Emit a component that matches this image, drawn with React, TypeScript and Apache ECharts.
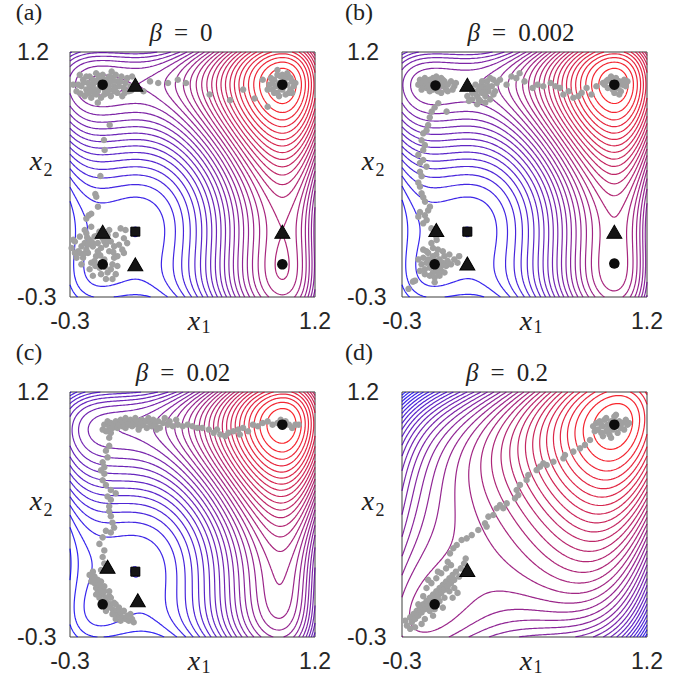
import React, { useEffect, useRef } from "react";
import * as echarts from "echarts";

// ---------- data ----------
const BETAS = [0, 0.002, 0.02, 0.2];
const BETA_TEXT = ["0", "0.002", "0.02", "0.2"];
const PANEL_LABELS = ["(a)", "(b)", "(c)", "(d)"];
const X_TICKS = [-0.3, 1.2];
const Y_TICKS = [-0.3, 1.2];
const N_LEVELS = 36;

// landscape coefficients (1D profile with maxima at -0.1 and 1.0, minimum at 0.1)
const PROFILE_SCALE = 12.67;
const WEIGHT_X1 = 1.0;
const WEIGHT_X2 = 0.7;
const COUPLING = 5.5;

// critical points (circle = maximum, triangle = saddle, square = minimum)
const CIRCLES_A = [[-0.1, 1.0], [1.0, 1.0], [-0.1, -0.1], [1.0, -0.1]];
const TRIANGLES_A = [[0.1, 1.0], [-0.1, 0.1], [0.1, -0.1], [1.0, 0.1]];
const SQUARES_A = [[0.1, 0.1]];
const CIRCLES_B = [[-0.095, 0.995], [1.0, 1.0], [-0.1, -0.1], [1.0, -0.095]];
const TRIANGLES_B = [[0.1, 1.0], [-0.09, 0.11], [0.1, -0.095], [1.0, 0.1]];
const SQUARES_B = [[0.1, 0.1]];
const CIRCLES_C = [[1.0, 1.0], [-0.1, -0.1]];
const TRIANGLES_C = [[-0.07, 0.13], [0.115, -0.075]];
const SQUARES_C = [[0.1, 0.1]];
const CIRCLES_D = [[1.0, 1.0], [-0.1, -0.1]];
const TRIANGLES_D = [[0.1, 0.11]];
const SQUARES_D: number[][] = [];

// sample points (grey)
const A_TOP_LEFT = [[-0.25,1.00],[-0.22,1.03],[-0.20,0.97],[-0.18,1.05],[-0.16,1.00],[-0.15,0.95],[-0.13,1.03],[-0.12,0.98],[-0.10,1.06],[-0.09,0.94],[-0.07,1.01],[-0.06,0.97],[-0.04,1.04],[-0.03,0.99],[-0.01,0.95],[0.01,1.02],[0.03,0.98],[0.05,1.04],[0.06,0.96],[-0.26,0.96],[-0.24,1.06],[-0.21,0.93],[-0.19,1.01],[-0.17,0.92],[-0.14,1.07],[-0.11,0.92],[-0.08,1.03],[-0.05,0.93],[-0.02,1.06],[0.00,0.99],[0.02,0.93],[0.04,1.01],[-0.23,0.99],[-0.16,1.03],[-0.13,0.96],[-0.09,0.99],[-0.06,1.05],[-0.03,0.96],[-0.11,1.02],[-0.18,0.98],[-0.14,0.94],[-0.07,0.95],[0.07,0.99],[-0.20,1.05],[-0.01,1.02],[-0.13,0.89],[0.08,1.05],[0.075,0.965],[-0.28,1.0],[-0.045,1.08],[-0.155,0.975],[-0.085,0.965],[-0.035,1.025],[-0.195,0.945],[-0.105,1.045],[-0.215,1.015],[-0.175,0.955],[-0.125,1.055],[-0.065,0.99],[-0.025,0.975],[0.015,1.05],[-0.235,0.945],[-0.145,1.015],[-0.055,1.015],[0.035,0.95]];
const A_TOP_TRAIL = [[0.19,1.02],[0.24,1.01],[0.30,1.01],[0.36,1.03],[0.41,1.01],[0.555,0.94],[0.68,0.905],[0.76,0.97],[0.83,0.915],[0.91,0.865],[0.88,1.03],[0.97,1.09],[0.15,0.96]];
const A_TOP_RIGHT = [[0.92,1.00],[0.94,0.97],[0.95,1.03],[0.97,0.95],[0.98,1.01],[0.99,1.05],[1.00,0.97],[1.01,1.02],[1.02,0.94],[1.03,1.00],[1.04,1.05],[1.05,0.97],[1.06,1.02],[1.07,0.99],[0.93,1.04],[0.96,0.99],[1.00,1.06],[1.02,1.04],[1.04,0.95],[1.08,1.01],[0.95,0.95],[0.98,0.93],[1.01,0.99],[0.97,1.06],[1.06,0.95],[0.91,0.97],[1.03,1.07],[0.99,0.98],[1.05,1.04],[0.94,1.01]];
const A_LEFT_TRAIL = [[-0.057,0.753],[-0.092,0.661],[-0.088,0.60],[-0.114,0.441],[-0.139,0.314],[-0.129,0.253],[-0.17,0.21],[-0.20,0.18],[-0.145,0.33],[-0.185,0.20]];
const A_BOTTOM_LEFT = [[-0.29,0.00],[-0.27,0.04],[-0.25,-0.02],[-0.24,0.07],[-0.23,0.01],[-0.22,-0.06],[-0.21,0.03],[-0.20,0.09],[-0.19,-0.03],[-0.18,0.05],[-0.17,-0.09],[-0.16,0.01],[-0.15,0.07],[-0.14,-0.05],[-0.13,0.03],[-0.12,-0.12],[-0.11,0.00],[-0.10,0.06],[-0.09,-0.07],[-0.08,0.02],[-0.07,-0.15],[-0.06,-0.02],[-0.05,0.04],[-0.04,-0.10],[-0.03,0.01],[-0.02,0.08],[-0.01,-0.05],[0.00,0.02],[0.02,-0.01],[0.03,0.06],[0.04,0.11],[0.01,0.12],[-0.26,-0.06],[-0.23,-0.10],[-0.20,-0.01],[-0.18,-0.13],[-0.15,-0.08],[-0.13,-0.02],[-0.11,-0.16],[-0.09,0.04],[-0.07,0.08],[-0.05,-0.13],[-0.03,-0.06],[-0.16,-0.17],[-0.12,0.10],[-0.08,-0.19],[-0.02,-0.16],[0.03,-0.03],[-0.21,0.11],[-0.24,-0.03],[-0.19,0.02],[-0.145,-0.11],[-0.06,0.11],[0.05,0.03],[-0.28,0.05],[-0.01,-0.11],[-0.10,-0.09],[-0.17,0.13],[-0.27,-0.03],[-0.04,-0.19],[-0.215,-0.035],[-0.165,0.035],[-0.115,-0.045],[-0.065,0.045],[-0.135,0.075],[-0.195,0.065],[-0.085,-0.115],[-0.035,-0.025]];

const B_TOP_LEFT = [[-0.20,1.00],[-0.19,1.03],[-0.18,0.97],[-0.17,1.01],[-0.16,1.04],[-0.15,0.98],[-0.14,1.02],[-0.13,0.96],[-0.12,1.00],[-0.11,1.04],[-0.10,0.98],[-0.09,1.02],[-0.08,0.96],[-0.07,1.01],[-0.06,1.04],[-0.05,0.99],[-0.04,1.02],[-0.03,0.97],[-0.02,1.00],[0.00,1.02],[0.02,0.99],[0.03,1.01],[-0.17,0.99],[-0.14,0.99],[-0.11,0.97],[-0.08,0.99],[-0.05,1.03],[-0.02,0.96],[-0.19,1.01],[-0.13,1.03],[-0.09,1.05],[0.01,0.97],[-0.06,0.95]];
const B_SADDLE_CLUSTER = [[0.10,0.93],[0.12,0.98],[0.13,0.91],[0.14,0.96],[0.15,1.00],[0.16,0.93],[0.17,0.97],[0.18,0.90],[0.19,0.95],[0.20,0.99],[0.21,0.93],[0.22,1.02],[0.23,0.96],[0.24,0.91],[0.25,0.99],[0.26,1.03],[0.27,0.96],[0.28,1.01],[0.15,0.95],[0.18,0.99],[0.21,0.97],[0.17,0.91],[0.20,0.95],[0.23,0.99],[0.13,0.95],[0.24,1.04],[0.19,1.02],[0.26,0.94],[0.11,0.90],[0.16,0.88],[0.21,0.89]];
const B_TOP_TRAIL = [[0.30,1.03],[0.34,1.00],[0.37,1.05],[0.40,1.04],[0.42,1.07],[0.45,1.02],[0.50,0.98],[0.53,1.00],[0.565,0.99],[0.61,1.01],[0.64,0.99],[0.667,0.98],[0.688,0.94],[0.72,0.96],[0.749,0.92],[0.78,0.93],[0.80,0.95],[0.83,0.98],[0.86,0.94],[0.89,0.99],[0.93,1.01],[0.96,1.03]];
const B_TOP_RIGHT = [[0.94,1.00],[0.96,0.98],[0.97,1.03],[0.99,0.97],[1.00,1.01],[1.01,1.04],[1.02,0.98],[1.03,1.02],[1.04,0.96],[1.05,1.00],[1.06,1.03],[1.07,0.99],[0.98,1.05],[1.00,0.95],[0.95,1.02],[1.03,0.94],[1.08,1.02],[0.99,1.00]];
const B_LEFT_TRAIL = [[-0.078,0.886],[-0.118,0.835],[-0.027,0.835],[-0.10,0.86],[-0.14,0.753],[-0.13,0.80],[-0.17,0.702],[-0.15,0.72],[-0.16,0.63],[-0.18,0.66],[-0.2,0.57],[-0.17,0.60],[-0.17,0.539],[-0.15,0.498],[-0.19,0.52],[-0.19,0.467],[-0.18,0.44],[-0.20,0.40],[-0.19,0.376],[-0.18,0.335],[-0.17,0.31],[-0.159,0.284],[-0.129,0.253],[-0.14,0.23],[-0.2,0.192],[-0.19,0.22],[-0.149,0.171],[-0.16,0.20],[-0.17,0.151],[-0.12,0.12],[-0.09,0.07],[-0.088,0.049]];
const B_BOTTOM_LEFT = [[-0.18,-0.10],[-0.17,-0.06],[-0.16,-0.13],[-0.15,-0.09],[-0.14,-0.03],[-0.13,-0.12],[-0.12,-0.07],[-0.11,-0.15],[-0.10,-0.10],[-0.09,-0.04],[-0.08,-0.12],[-0.07,-0.07],[-0.06,-0.14],[-0.05,-0.09],[-0.04,-0.05],[-0.03,-0.11],[-0.02,-0.08],[0.00,-0.10],[0.02,-0.07],[0.04,-0.09],[0.05,-0.05],[-0.13,-0.17],[-0.10,-0.18],[-0.07,-0.17],[-0.15,-0.02],[-0.11,0.00],[-0.08,-0.01],[-0.05,-0.02],[-0.19,-0.14],[-0.16,-0.16],[-0.12,-0.10],[-0.09,-0.08],[-0.06,-0.11],[-0.14,-0.07],[-0.11,-0.05],[-0.08,-0.15],[-0.04,-0.15],[-0.17,-0.01],[-0.20,-0.07],[-0.01,-0.04],[-0.12,0.03],[-0.09,-0.13],[-0.26,-0.25],[-0.22,-0.20],[-0.10,-0.21],[-0.233,-0.206]];

const C_TOP_BAND = [[-0.10,0.97],[-0.09,1.00],[-0.08,0.96],[-0.07,1.02],[-0.06,0.99],[-0.05,1.01],[-0.04,0.98],[-0.03,1.00],[-0.02,1.02],[-0.01,0.98],[0.00,1.00],[0.01,1.03],[0.02,0.99],[0.03,1.01],[0.04,0.98],[0.05,1.02],[0.06,1.00],[0.07,1.03],[0.08,0.99],[0.09,1.01],[0.10,1.04],[0.11,1.00],[0.12,1.02],[0.13,0.99],[0.14,1.03],[0.15,1.00],[0.16,1.02],[0.17,0.98],[0.18,1.04],[0.19,1.01],[0.20,0.99],[0.21,1.03],[0.22,1.00],[0.24,1.02],[0.25,0.98],[0.27,1.01],[0.28,1.04],[0.30,1.00],[0.31,1.02],[0.33,0.99],[0.35,1.03],[0.36,1.00],[0.23,0.97],[0.12,0.97],[0.04,1.04],[-0.05,0.95]];
const C_TOP_TRAIL = [[0.39,0.99],[0.42,1.00],[0.45,0.99],[0.48,0.98],[0.51,0.98],[0.55,0.97],[0.58,0.95],[0.62,0.94],[0.65,0.93],[0.67,0.95],[0.70,0.96],[0.73,0.97],[0.76,0.98],[0.79,0.96],[0.82,1.00],[0.85,0.99],[0.88,1.01],[0.91,1.02],[0.94,1.00],[0.97,1.01],[1.00,0.99],[1.02,1.02],[1.04,1.00],[1.06,0.98],[1.08,1.00],[1.10,1.00],[0.60,0.97],[0.74,0.94],[0.99,1.03]];
const C_LEFT_TRAIL = [[-0.07,0.96],[-0.06,0.92],[-0.06,0.87],[-0.08,0.84],[-0.07,0.80],[-0.10,0.77],[-0.09,0.74],[-0.09,0.70],[-0.10,0.66],[-0.08,0.63],[-0.05,0.60],[-0.02,0.58],[-0.05,0.54],[-0.06,0.50],[-0.06,0.47],[-0.05,0.44],[-0.04,0.40],[-0.03,0.37],[-0.05,0.34],[-0.10,0.31],[-0.12,0.27],[-0.09,0.23],[-0.10,0.19],[-0.09,0.15],[-0.11,0.11],[-0.08,0.35],[-0.11,0.72],[-0.07,0.56]];
const C_BOTTOM_LEFT = [[-0.18,0.08],[-0.16,0.06],[-0.17,0.04],[-0.15,0.03],[-0.13,0.05],[-0.14,0.00],[-0.12,0.02],[-0.13,-0.03],[-0.11,-0.01],[-0.10,-0.04],[-0.12,-0.06],[-0.09,-0.02],[-0.08,-0.06],[-0.10,-0.08],[-0.07,-0.09],[-0.06,-0.05],[-0.05,-0.10],[-0.07,-0.12],[-0.04,-0.13],[-0.03,-0.09],[-0.02,-0.14],[-0.04,-0.16],[-0.01,-0.17],[0.00,-0.12],[0.01,-0.15],[0.02,-0.18],[0.03,-0.14],[0.04,-0.19],[0.05,-0.17],[0.06,-0.20],[0.08,-0.19],[0.09,-0.21],[-0.15,0.07],[-0.11,0.04],[-0.09,0.01],[-0.06,-0.02],[-0.14,-0.04],[-0.11,-0.10],[-0.08,-0.14],[-0.05,-0.06],[-0.02,-0.10],[0.01,-0.20],[-0.02,-0.19],[0.07,-0.16],[-0.16,0.10]];

const D_TOP_RIGHT = [[0.87,0.99],[0.88,0.96],[0.89,1.01],[0.90,0.97],[0.91,1.02],[0.92,0.95],[0.93,0.99],[0.94,1.03],[0.95,0.96],[0.96,1.00],[0.97,0.94],[0.98,1.02],[0.99,0.97],[1.00,1.05],[1.01,0.99],[1.02,0.95],[1.03,1.02],[1.04,0.98],[1.05,1.01],[1.06,0.97],[1.07,1.03],[1.08,1.00],[0.95,1.04],[0.98,0.92],[1.01,1.06],[0.93,0.93],[1.00,1.02],[0.96,0.97],[1.09,1.01],[0.92,1.00]];
const D_DIAGONAL = [[0.851,0.906],[0.820,0.876],[0.790,0.855],[0.749,0.835],[0.698,0.814],[0.688,0.794],[0.627,0.773],[0.586,0.753],[0.565,0.763],[0.545,0.743],[0.524,0.722],[0.473,0.692],[0.463,0.661],[0.422,0.631],[0.402,0.600],[0.412,0.569],[0.392,0.549],[0.341,0.518],[0.320,0.488],[0.300,0.508],[0.280,0.488],[0.259,0.447],[0.229,0.437],[0.208,0.396],[0.218,0.376],[0.167,0.355],[0.127,0.324],[0.096,0.304],[0.065,0.294],[0.035,0.263],[0.014,0.243],[-0.006,0.212]];
const D_BOTTOM_LEFT = [[-0.28,-0.20],[-0.27,-0.23],[-0.25,-0.18],[-0.24,-0.21],[-0.23,-0.16],[-0.22,-0.19],[-0.21,-0.14],[-0.20,-0.17],[-0.19,-0.12],[-0.18,-0.15],[-0.17,-0.10],[-0.16,-0.13],[-0.15,-0.08],[-0.14,-0.11],[-0.13,-0.06],[-0.12,-0.09],[-0.11,-0.04],[-0.10,-0.07],[-0.09,-0.02],[-0.08,-0.05],[-0.07,0.00],[-0.06,-0.03],[-0.05,0.02],[-0.04,-0.01],[-0.03,0.04],[-0.02,0.01],[-0.01,0.06],[0.00,0.03],[0.01,0.08],[0.02,0.05],[0.03,0.10],[0.05,0.07],[0.06,0.12],[0.08,0.15],[0.09,0.18],[-0.20,-0.10],[-0.17,-0.05],[-0.13,-0.14],[-0.10,-0.13],[-0.07,-0.08],[-0.04,-0.06],[-0.01,-0.02],[0.02,0.00],[-0.15,0.00],[-0.12,0.03],[-0.09,0.06],[-0.06,0.09],[-0.03,0.12],[-0.11,-0.17],[-0.16,-0.19],[-0.22,-0.24],[-0.25,-0.25],[0.04,-0.03],[-0.08,0.10],[0.00,0.14],[-0.14,0.05],[-0.05,-0.12],[0.01,-0.06],[-0.18,-0.22],[-0.02,0.16]];

const POINTS = [
  [...A_TOP_LEFT, ...A_TOP_TRAIL, ...A_TOP_RIGHT, ...A_LEFT_TRAIL, ...A_BOTTOM_LEFT],
  [...B_TOP_LEFT, ...B_SADDLE_CLUSTER, ...B_TOP_TRAIL, ...B_TOP_RIGHT, ...B_LEFT_TRAIL, ...B_BOTTOM_LEFT],
  [...C_TOP_BAND, ...C_TOP_TRAIL, ...C_LEFT_TRAIL, ...C_BOTTOM_LEFT],
  [...D_TOP_RIGHT, ...D_DIAGONAL, ...D_BOTTOM_LEFT],
];
const CIRCLES = [CIRCLES_A, CIRCLES_B, CIRCLES_C, CIRCLES_D];
const TRIANGLES = [TRIANGLES_A, TRIANGLES_B, TRIANGLES_C, TRIANGLES_D];
const SQUARES = [SQUARES_A, SQUARES_B, SQUARES_C, SQUARES_D];

// ---------- layout ----------
const PANELS = [
  { left: 70, top: 52, titleX: 181, labelX: 29, yMargin: 53 },
  { left: 402, top: 52, titleX: 521, labelX: 359, yMargin: 55 },
  { left: 70, top: 392, titleX: 183, labelX: 29, yMargin: 53 },
  { left: 402, top: 392, titleX: 507, labelX: 359, yMargin: 55 },
];
const SIZE = 245;
const SERIF = "Liberation Serif";
const SANS = "Liberation Sans";
const INK = "#222";

// ---------- landscape + contours ----------
function profile(x: number) {
  return -PROFILE_SCALE * (x ** 4 / 4 - x ** 3 / 3 - 0.005 * x * x + 0.01 * x);
}
function landscape(x1: number, x2: number, beta: number) {
  return WEIGHT_X1 * profile(x1) + WEIGHT_X2 * profile(x2) - beta * COUPLING * (x1 - x2) ** 2;
}

function contourLines(Z: number[][], xs: number[], ys: number[], L: number) {
  const nx = xs.length, ny = ys.length;
  const pts = new Map<string, number[]>();
  const adj = new Map<string, string[]>();
  const link = (a: string, b: string) => {
    if (!adj.has(a)) adj.set(a, []);
    if (!adj.has(b)) adj.set(b, []);
    adj.get(a)!.push(b);
    adj.get(b)!.push(a);
  };
  for (let j = 0; j < ny - 1; j++) {
    for (let i = 0; i < nx - 1; i++) {
      const za = Z[j][i], zb = Z[j][i + 1], zc = Z[j + 1][i + 1], zd = Z[j + 1][i];
      const pa = za >= L, pb = zb >= L, pc = zc >= L, pd = zd >= L;
      if (pa === pb && pb === pc && pc === pd) continue;
      let bottom = "", right = "", top = "", left = "";
      if (pa !== pb) {
        bottom = "h" + i + "," + j;
        if (!pts.has(bottom)) pts.set(bottom, [xs[i] + ((L - za) / (zb - za)) * (xs[i + 1] - xs[i]), ys[j]]);
      }
      if (pb !== pc) {
        right = "v" + (i + 1) + "," + j;
        if (!pts.has(right)) pts.set(right, [xs[i + 1], ys[j] + ((L - zb) / (zc - zb)) * (ys[j + 1] - ys[j])]);
      }
      if (pd !== pc) {
        top = "h" + i + "," + (j + 1);
        if (!pts.has(top)) pts.set(top, [xs[i] + ((L - zd) / (zc - zd)) * (xs[i + 1] - xs[i]), ys[j + 1]]);
      }
      if (pa !== pd) {
        left = "v" + i + "," + j;
        if (!pts.has(left)) pts.set(left, [xs[i], ys[j] + ((L - za) / (zd - za)) * (ys[j + 1] - ys[j])]);
      }
      const e = [bottom, right, top, left].filter((s) => s !== "");
      if (e.length === 2) link(e[0], e[1]);
      else if (e.length === 4) {
        const center = (za + zb + zc + zd) / 4 >= L;
        if (center === pa) { link(bottom, right); link(left, top); }
        else { link(bottom, left); link(right, top); }
      }
    }
  }
  const visited = new Set<string>();
  const lines: number[][][] = [];
  const walk = (s: string, loop: boolean) => {
    const chain = [pts.get(s)!];
    visited.add(s);
    let cur = s;
    for (;;) {
      let nxt: string | null = null;
      for (const n of adj.get(cur)!) if (!visited.has(n)) { nxt = n; break; }
      if (nxt === null) { if (loop) chain.push(pts.get(s)!); break; }
      visited.add(nxt);
      chain.push(pts.get(nxt)!);
      cur = nxt;
    }
    if (chain.length > 1) lines.push(chain.map((p) => [+p[0].toFixed(4), +p[1].toFixed(4)]));
  };
  for (const [id, nbs] of adj) if (nbs.length === 1 && !visited.has(id)) walk(id, false);
  for (const id of adj.keys()) if (!visited.has(id)) walk(id, true);
  return lines;
}

function buildContours(beta: number) {
  const n = 151;
  const xs: number[] = [], ys: number[] = [];
  for (let i = 0; i < n; i++) { xs.push(-0.3 + (1.5 * i) / (n - 1)); ys.push(-0.3 + (1.5 * i) / (n - 1)); }
  const Z: number[][] = [];
  let mn = Infinity, mx = -Infinity;
  for (let j = 0; j < n; j++) {
    const row: number[] = [];
    for (let i = 0; i < n; i++) {
      const v = landscape(xs[i], ys[j], beta);
      row.push(v);
      if (v < mn) mn = v;
      if (v > mx) mx = v;
    }
    Z.push(row);
  }
  const data: any[] = [];
  for (let k = 1; k <= N_LEVELS; k++) {
    const t = k / (N_LEVELS + 1);
    const L = mn + t * (mx - mn);
    const color = `rgb(${Math.round(255 * t)},0,${Math.round(255 * (1 - t))})`;
    for (const c of contourLines(Z, xs, ys, L)) data.push({ coords: c, lineStyle: { color } });
  }
  return data;
}

// ---------- component ----------
export default function App() {
  const ref = useRef<HTMLDivElement>(null);
  useEffect(() => {
    if (!ref.current) return;
    const chart = echarts.init(ref.current, null, { renderer: "svg" });
    const grid: any[] = [], xAxis: any[] = [], yAxis: any[] = [], series: any[] = [], graphic: any[] = [];
    PANELS.forEach((p, idx) => {
      grid.push({ left: p.left, top: p.top, width: SIZE, height: SIZE, show: true, borderColor: "#3c3c3c", borderWidth: 1, backgroundColor: "#fff" });
      xAxis.push({
        type: "value", gridIndex: idx, min: -0.3, max: 1.2,
        axisLine: { show: false }, axisTick: { show: false }, splitLine: { show: false },
        axisLabel: { customValues: X_TICKS, formatter: (v: number) => v.toFixed(1), margin: 12, fontSize: 23, color: "#262626", fontFamily: SANS },
      });
      yAxis.push({
        type: "value", gridIndex: idx, min: -0.3, max: 1.2,
        axisLine: { show: false }, axisTick: { show: false }, splitLine: { show: false },
        axisLabel: { customValues: Y_TICKS, formatter: (v: number) => v.toFixed(1), margin: p.yMargin, align: "left", fontSize: 23, color: "#262626", fontFamily: SANS },
      });
      series.push({
        type: "lines", coordinateSystem: "cartesian2d", xAxisIndex: idx, yAxisIndex: idx,
        polyline: true, silent: true, z: 1, lineStyle: { width: 1.2, opacity: 0.85 },
        data: buildContours(BETAS[idx]),
      });
      series.push({
        type: "scatter", xAxisIndex: idx, yAxisIndex: idx, z: 2, silent: true,
        symbol: "circle", symbolSize: 6.5, itemStyle: { color: "#a0a0a0", opacity: 1 }, data: POINTS[idx],
      });
      series.push({
        type: "scatter", xAxisIndex: idx, yAxisIndex: idx, z: 3, silent: true,
        symbol: "circle", symbolSize: 10.5, itemStyle: { color: "#0d0d0d", opacity: 1 }, data: CIRCLES[idx],
      });
      series.push({
        type: "scatter", xAxisIndex: idx, yAxisIndex: idx, z: 3, silent: true,
        symbol: "triangle", symbolSize: [15, 13], itemStyle: { color: "#151515", borderColor: "#000", borderWidth: 1, opacity: 1 }, data: TRIANGLES[idx],
      });
      series.push({
        type: "scatter", xAxisIndex: idx, yAxisIndex: idx, z: 3, silent: true,
        symbol: "rect", symbolSize: 9, itemStyle: { color: "#151515", borderColor: "#000", borderWidth: 1, opacity: 1 }, data: SQUARES[idx],
      });
      const dy = p.top - 52;
      const dx = p.left - 70;
      graphic.push({
        type: "text", x: p.labelX, y: 12 + dy,
        style: { text: PANEL_LABELS[idx], fontFamily: SERIF, fontSize: 24, fill: INK, align: "center", verticalAlign: "middle" },
      });
      graphic.push({
        type: "text", x: p.titleX, y: 32 + dy,
        style: {
          text: `{b|β}{e|=}{n|${BETA_TEXT[idx]}}`, fontFamily: SERIF, fontSize: 25, fill: INK, align: "center", verticalAlign: "middle",
          rich: {
            b: { fontFamily: SERIF, fontSize: 25, fontStyle: "italic", fill: INK },
            e: { fontFamily: SERIF, fontSize: 25, fill: INK, padding: [0, 12, 0, 12] },
            n: { fontFamily: SERIF, fontSize: 25, fill: INK },
          },
        },
      });
      graphic.push({
        type: "text", x: 194 + dx, y: 320 + dy,
        style: { text: "x", fontFamily: SERIF, fontStyle: "italic", fontSize: 28, fill: INK, align: "center", verticalAlign: "middle" },
      });
      graphic.push({
        type: "text", x: 206 + dx, y: 327 + dy,
        style: { text: "1", fontFamily: SERIF, fontSize: 18, fill: INK, align: "center", verticalAlign: "middle" },
      });
      graphic.push({
        type: "text", x: 36 + dx, y: 160 + dy,
        style: { text: "x", fontFamily: SERIF, fontStyle: "italic", fontSize: 28, fill: INK, align: "center", verticalAlign: "middle" },
      });
      graphic.push({
        type: "text", x: 48 + dx, y: 170 + dy,
        style: { text: "2", fontFamily: SERIF, fontSize: 18, fill: INK, align: "center", verticalAlign: "middle" },
      });
    });
    chart.setOption({ animation: false, backgroundColor: "#fff", grid, xAxis, yAxis, series, graphic });
    return () => chart.dispose();
  }, []);
  return <div ref={ref} style={{ position: "absolute", left: 0, top: 0, width: 683, height: 677 }} />;
}
